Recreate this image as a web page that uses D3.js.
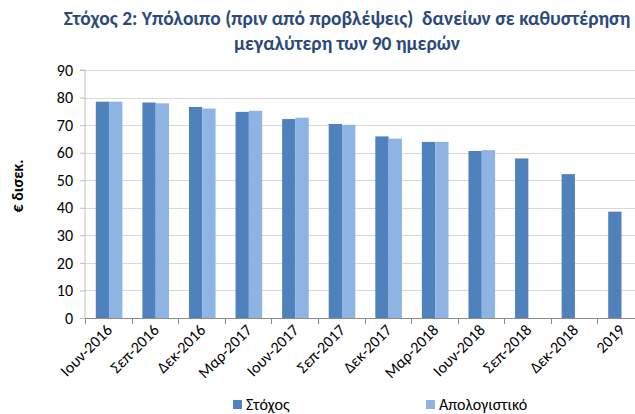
<!DOCTYPE html>
<html><head><meta charset="utf-8">
<script src="https://cdn.jsdelivr.net/npm/d3@7"></script>
<style>body{margin:0;background:#fff;}svg{display:block;font-family:Carlito,"Open Sans","Liberation Sans",sans-serif;}</style>
</head><body>
<svg id="c" width="635" height="414"></svg>
<script>
const categories = ["Ιουν-2016","Σεπ-2016","Δεκ-2016","Μαρ-2017","Ιουν-2017","Σεπ-2017","Δεκ-2017","Μαρ-2018","Ιουν-2018","Σεπ-2018","Δεκ-2018","2019"];
const target = [78.5,78.2,76.6,74.8,72.2,70.4,65.9,63.9,60.6,57.9,52.2,38.6];
const actual = [78.5,77.9,76.0,75.2,72.7,70.1,65.1,63.9,60.9,null,null,null];
const seriesNames = ["Στόχος","Απολογιστικό"];
const yTicks = [0,10,20,30,40,50,60,70,80,90];
const titleLines = ["Στόχος 2: Υπόλοιπο (πριν από προβλέψεις)  δανείων σε καθυστέρηση","μεγαλύτερη των 90 ημερών"];
const yLabel = "€ δισεκ.";

(function(){
const colors = ["#4F81BD","#8EB4E3"];
const svg = d3.select("#c");
const pL = 85, pR = 644, pT = 70, pB = 318;
const x = d3.scaleBand().domain(categories).range([pL,pR]).paddingInner(0).paddingOuter(0);
const y = d3.scaleLinear().domain([0,90]).range([pB,pT]);

svg.append("g").selectAll("line").data(yTicks.filter(d=>d>0)).join("line")
  .attr("x1",pL).attr("x2",635).attr("y1",d=>Math.round(y(d))+0.5).attr("y2",d=>Math.round(y(d))+0.5)
  .attr("stroke","#D9D9D9").attr("stroke-width",1);

const bw = 13.3, off = 10.8;
const g = svg.append("g");
categories.forEach((c,i)=>{
  [target[i],actual[i]].forEach((v,k)=>{
    if(v==null) return;
    g.append("rect").attr("x",x(c)+off+k*bw).attr("y",y(v)).attr("width",bw).attr("height",pB-y(v))
      .attr("fill",colors[k]);
  });
});

const ya = svg.append("g").attr("transform",`translate(${pL},0)`)
  .call(d3.axisLeft(y).tickValues(yTicks).tickSize(5).tickPadding(7));
ya.select(".domain").attr("stroke","#BFBFBF").attr("d",`M-5,${pT}H0V${pB}`);
ya.selectAll(".tick line").attr("stroke","#BFBFBF");
ya.selectAll(".tick text").attr("font-size","16px").attr("fill","#000").attr("font-family","Carlito,'Open Sans',sans-serif");

const xa = svg.append("g").attr("transform",`translate(0,${pB})`);
xa.append("line").attr("x1",pL).attr("x2",635).attr("y1",0.5).attr("y2",0.5).attr("stroke","#8C8C8C");
const bounds = categories.map(c=>x(c)).concat([x(categories[categories.length-1])+x.bandwidth()]);
xa.selectAll("line.tk").data(bounds).join("line").attr("class","tk")
  .attr("x1",d=>Math.round(d)+0.5).attr("x2",d=>Math.round(d)+0.5).attr("y1",0).attr("y2",6).attr("stroke","#8C8C8C");
xa.selectAll("text.lb").data(categories).join("text").attr("class","lb")
  .attr("transform",d=>`translate(${x(d)+x.bandwidth()/2+5},${13}) rotate(-45)`)
  .attr("text-anchor","end").attr("font-size","16px").attr("fill","#000").text(d=>d);

svg.append("g").selectAll("text").data(titleLines).join("text")
  .attr("x",347).attr("y",(d,i)=>25+i*25).attr("text-anchor","middle").style("white-space","pre")
  .attr("font-size","19.5px").attr("font-weight","bold").attr("fill","#2B4A7B").text(d=>d);

svg.append("text").attr("transform","translate(23,186) rotate(-90)").attr("text-anchor","middle")
  .attr("font-size","16px").attr("font-weight","bold").attr("fill","#000").text(yLabel);

const lx = [233,426];
seriesNames.forEach((n,k)=>{
  svg.append("rect").attr("x",lx[k]).attr("y",400).attr("width",9).attr("height",9).attr("fill",colors[k]);
  svg.append("text").attr("x",lx[k]+13).attr("y",410).attr("font-size","16px").attr("fill","#000").text(n);
});
})();
</script>
</body></html>
